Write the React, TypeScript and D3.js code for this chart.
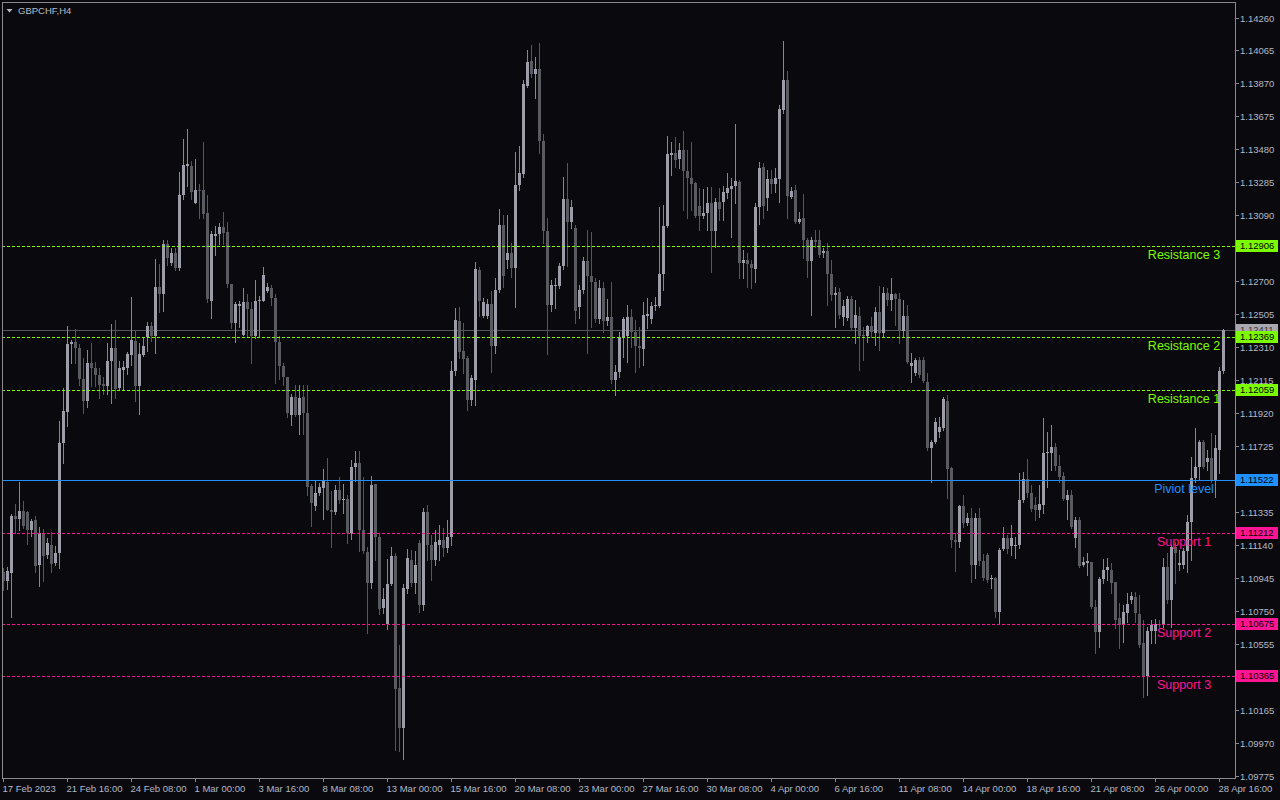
import React, { useEffect, useRef } from "react";
import * as d3 from "d3";

const symbolTitle = "GBPCHF,H4";

const opens = [
  1.10981,1.10927,1.10975,1.11312,1.11294,1.11341,1.11336,1.11229,1.11288,1.11022,
  1.11211,1.11081,1.11140,1.11034,1.11093,1.11744,1.11927,1.12329,1.12341,1.12306,
  1.12122,1.11992,1.12217,1.12187,1.12146,1.12093,1.12081,1.12229,1.12306,1.12069,
  1.12175,1.12187,1.12264,1.12347,1.12081,1.12264,1.12371,1.12436,1.12377,1.12666,
  1.12625,1.12921,1.12808,1.12868,1.12779,1.13211,1.13382,1.13382,1.13163,1.13240,
  1.13240,1.13104,1.12584,1.12968,1.12980,1.13021,1.12992,1.12684,1.12454,1.12554,
  1.12383,1.12578,1.12536,1.12377,1.12584,1.12584,1.12643,1.12661,1.12601,1.12341,
  1.12199,1.12134,1.11909,1.12016,1.11909,1.12016,1.11921,1.11489,1.11371,1.11448,
  1.11478,1.11513,1.11347,1.11336,1.11466,1.11407,1.11412,1.11211,1.11602,1.11625,
  1.11229,1.11099,1.10916,1.11501,1.11188,1.10768,1.10673,1.10910,1.11075,1.10295,
  1.10058,1.10880,1.11052,1.10916,1.11152,1.10785,1.11336,1.11140,1.11052,1.11140,
  1.11170,1.11123,1.11188,1.12170,1.12465,1.12288,1.12246,1.11998,1.12116,1.12767,
  1.12495,1.12495,1.12566,1.12317,1.12649,1.13033,1.12826,1.12868,1.12779,1.13270,
  1.13335,1.13855,1.14003,1.13926,1.13956,1.13530,1.12998,1.12560,1.12672,1.12672,
  1.12791,1.13187,1.13051,1.13015,1.12548,1.12649,1.12820,1.12732,1.12696,1.12477,
  1.12661,1.12465,1.12489,1.12116,1.12164,1.12371,1.12377,1.12489,1.12400,1.12317,
  1.12300,1.12495,1.12477,1.12554,1.12554,1.12743,1.13027,1.13447,1.13459,1.13424,
  1.13477,1.13353,1.13311,1.13282,1.13146,1.13086,1.13104,1.13163,1.12998,1.13169,
  1.13169,1.13222,1.13246,1.13264,1.13288,1.12808,1.12826,1.12802,1.12773,1.13140,
  1.13376,1.13193,1.13305,1.13276,1.13305,1.13713,1.13891,1.13199,1.13240,1.13051,
  1.13075,1.12944,1.12820,1.12944,1.12944,1.12868,1.12879,1.12743,1.12619,1.12637,
  1.12489,1.12483,1.12595,1.12424,1.12495,1.12383,1.12377,1.12436,1.12394,1.12519,
  1.12394,1.12631,1.12590,1.12625,1.12595,1.12406,1.12495,1.12199,1.12158,1.12235,
  1.12235,1.12105,1.11714,1.11750,1.11809,1.11832,1.11992,1.11596,1.11170,1.11158,
  1.11371,1.11271,1.11300,1.11022,1.11300,1.11046,1.11081,1.10939,1.10945,1.10744,
  1.11117,1.11182,1.11134,1.11134,1.11140,1.11407,1.11531,1.11448,1.11377,1.11347,
  1.11377,1.11685,1.11685,1.11720,1.11608,1.11549,1.11407,1.11436,1.11182,1.11288,
  1.11022,1.11034,1.11040,1.10774,1.10626,1.10939,1.10992,1.10992,1.10922,1.10709,
  1.10667,1.10738,1.10815,1.10833,1.10732,1.10561,1.10366,1.10632,1.10632,1.10673,
  1.10673,1.11010,1.10815,1.11129,1.11022,1.11022,1.11105,1.11276,1.11537,1.11602,
  1.11750,1.11631,1.11655,1.11525,1.11702,1.12170,
];

const highs = [
  1.11004,1.11010,1.11324,1.11383,1.11513,1.11401,1.11341,1.11294,1.11312,1.11247,
  1.11235,1.11182,1.11217,1.11134,1.11874,1.12069,1.12436,1.12353,1.12418,1.12329,
  1.12246,1.12294,1.12335,1.12223,1.12187,1.12134,1.12335,1.12448,1.12471,1.12229,
  1.12229,1.12282,1.12607,1.12406,1.12335,1.12365,1.12459,1.12459,1.12832,1.12802,
  1.12944,1.12944,1.12897,1.12897,1.13347,1.13542,1.13601,1.13412,1.13424,1.13276,
  1.13524,1.13211,1.12998,1.13027,1.13045,1.13110,1.13051,1.12684,1.12578,1.12584,
  1.12661,1.12625,1.12578,1.12708,1.12613,1.12785,1.12690,1.12678,1.12625,1.12377,
  1.12217,1.12134,1.12034,1.12087,1.12087,1.12087,1.12087,1.11501,1.11519,1.11507,
  1.11590,1.11655,1.11460,1.11495,1.11543,1.11501,1.11436,1.11643,1.11696,1.11696,
  1.11543,1.11129,1.11549,1.11501,1.11211,1.10886,1.11058,1.11129,1.11093,1.10549,
  1.10910,1.11117,1.11111,1.11105,1.11170,1.11359,1.11377,1.11200,1.11229,1.11259,
  1.11241,1.11288,1.12229,1.12542,1.12548,1.12454,1.12258,1.12146,1.12814,1.12785,
  1.12601,1.12595,1.12643,1.12720,1.13128,1.13092,1.13092,1.12927,1.13465,1.13500,
  1.13891,1.14068,1.14098,1.14027,1.14110,1.13571,1.13075,1.12708,1.12720,1.12808,
  1.13317,1.13400,1.13181,1.13033,1.12678,1.12844,1.13004,1.12992,1.12720,1.12708,
  1.12696,1.12595,1.12696,1.12205,1.12400,1.12489,1.12560,1.12536,1.12471,1.12430,
  1.12578,1.12601,1.12578,1.12607,1.13140,1.13151,1.13560,1.13524,1.13554,1.13518,
  1.13589,1.13477,1.13524,1.13288,1.13252,1.13246,1.13258,1.13258,1.13193,1.13252,
  1.13264,1.13341,1.13311,1.13631,1.13299,1.12885,1.12868,1.12826,1.13163,1.13406,
  1.13400,1.13358,1.13358,1.13370,1.13743,1.14122,1.13944,1.13258,1.13270,1.13110,
  1.13217,1.12956,1.12962,1.13004,1.13004,1.12897,1.12927,1.12826,1.12666,1.12661,
  1.12590,1.12613,1.12613,1.12590,1.12548,1.12430,1.12442,1.12489,1.12548,1.12672,
  1.12666,1.12661,1.12720,1.12631,1.12631,1.12590,1.12560,1.12276,1.12246,1.12252,
  1.12252,1.12158,1.11761,1.11892,1.11897,1.12016,1.12028,1.11602,1.11211,1.11377,
  1.11436,1.11330,1.11359,1.11330,1.11359,1.11087,1.11093,1.10963,1.10951,1.11123,
  1.11247,1.11200,1.11259,1.11188,1.11566,1.11572,1.11649,1.11495,1.11424,1.11495,
  1.11892,1.11809,1.11850,1.11744,1.11673,1.11572,1.11466,1.11466,1.11306,1.11306,
  1.11069,1.11093,1.11040,1.10815,1.10951,1.11058,1.11063,1.11034,1.10922,1.10797,
  1.10785,1.10856,1.10862,1.10862,1.10845,1.10697,1.10655,1.10697,1.10703,1.10697,
  1.11063,1.11093,1.11140,1.11158,1.11111,1.11123,1.11318,1.11661,1.11832,1.11761,
  1.11761,1.11702,1.11803,1.11791,1.12193,1.12418,
];

const lows = [
  1.10874,1.10880,1.10714,1.11211,1.11229,1.11241,1.11146,1.11194,1.10981,1.10898,
  1.10927,1.11063,1.10981,1.11022,1.11004,1.11625,1.11844,1.12217,1.12217,1.12087,
  1.11921,1.11957,1.12081,1.12081,1.12010,1.12034,1.12034,1.11980,1.12010,1.12057,
  1.12057,1.12152,1.12205,1.11992,1.11915,1.12258,1.12288,1.12347,1.12276,1.12519,
  1.12524,1.12797,1.12797,1.12767,1.12767,1.13187,1.13264,1.13187,1.13163,1.13075,
  1.13075,1.12578,1.12483,1.12856,1.12921,1.12921,1.12666,1.12424,1.12341,1.12430,
  1.12383,1.12377,1.12217,1.12365,1.12377,1.12584,1.12637,1.12560,1.12099,1.12122,
  1.12087,1.11897,1.11850,1.11903,1.11797,1.11797,1.11436,1.11253,1.11347,1.11436,
  1.11294,1.11347,1.11129,1.11324,1.11389,1.11330,1.11152,1.11176,1.11519,1.11105,
  1.11093,1.10620,1.10886,1.11052,1.10732,1.10738,1.10644,1.10904,1.09928,1.09922,
  1.09875,1.10856,1.10898,1.10856,1.10744,1.10756,1.11052,1.10933,1.11022,1.11052,
  1.11075,1.11099,1.11140,1.12146,1.12246,1.12158,1.11939,1.11968,1.11968,1.12495,
  1.12489,1.12483,1.12164,1.12276,1.12637,1.12666,1.12779,1.12726,1.12548,1.13240,
  1.13317,1.13849,1.13909,1.13784,1.13459,1.12927,1.12270,1.12524,1.12542,1.12661,
  1.12773,1.12791,1.13015,1.12454,1.12483,1.12631,1.12276,1.12430,1.12459,1.12454,
  1.12400,1.12442,1.12099,1.12028,1.12134,1.12252,1.12223,1.12312,1.12164,1.12193,
  1.12205,1.12424,1.12454,1.12530,1.12548,1.12649,1.13021,1.13329,1.13376,1.13370,
  1.13122,1.13075,1.13122,1.13080,1.13004,1.13075,1.13004,1.12755,1.12903,1.13063,
  1.13063,1.13193,1.12962,1.13163,1.12720,1.12720,1.12666,1.12661,1.12696,1.13039,
  1.13075,1.13122,1.13222,1.13228,1.13169,1.13696,1.13075,1.13193,1.13045,1.13045,
  1.12838,1.12726,1.12501,1.12903,1.12844,1.12844,1.12560,1.12590,1.12430,1.12483,
  1.12442,1.12471,1.12412,1.12335,1.12175,1.12235,1.12341,1.12371,1.12323,1.12294,
  1.12371,1.12560,1.12530,1.12442,1.12335,1.12371,1.12217,1.12105,1.12146,1.12134,
  1.12105,1.11702,1.11513,1.11744,1.11779,1.11821,1.11418,1.11129,1.10987,1.11129,
  1.11247,1.11259,1.10922,1.10945,1.11022,1.10933,1.10922,1.10886,1.10714,1.10679,
  1.11111,1.11093,1.11081,1.11063,1.11123,1.11395,1.11424,1.11341,1.11288,1.11306,
  1.11330,1.11483,1.11584,1.11584,1.11513,1.11407,1.11294,1.11241,1.11129,1.11010,
  1.11016,1.10963,1.10768,1.10502,1.10537,1.10916,1.10933,1.10856,1.10649,1.10531,
  1.10567,1.10685,1.10797,1.10685,1.10537,1.10241,1.10253,1.10561,1.10561,1.10655,
  1.10655,1.10797,1.10655,1.10916,1.10992,1.11004,1.10981,1.11052,1.11513,1.11525,
  1.11596,1.11584,1.11513,1.11424,1.11566,1.12158,
];

const closes = [
  1.10927,1.10987,1.11312,1.11294,1.11341,1.11253,1.11229,1.11282,1.11016,1.11211,
  1.11075,1.11152,1.11028,1.11093,1.11744,1.11933,1.12329,1.12341,1.12306,1.12122,
  1.11992,1.12217,1.12187,1.12146,1.12087,1.12081,1.12229,1.12306,1.12063,1.12187,
  1.12193,1.12270,1.12353,1.12081,1.12270,1.12317,1.12436,1.12377,1.12666,1.12625,
  1.12921,1.12838,1.12868,1.12779,1.13211,1.13388,1.13394,1.13228,1.13240,1.13234,
  1.13098,1.12595,1.12980,1.12980,1.13021,1.12986,1.12684,1.12454,1.12566,1.12566,
  1.12578,1.12536,1.12377,1.12584,1.12590,1.12737,1.12666,1.12601,1.12341,1.12199,
  1.12134,1.11921,1.12016,1.11909,1.12010,1.11921,1.11483,1.11389,1.11448,1.11483,
  1.11519,1.11347,1.11336,1.11466,1.11407,1.11412,1.11211,1.11602,1.11625,1.11229,
  1.11105,1.10916,1.11495,1.11188,1.10762,1.10821,1.10910,1.11075,1.10289,1.10058,
  1.10886,1.11063,1.10916,1.11022,1.10785,1.11336,1.11140,1.11052,1.11158,1.11170,
  1.11123,1.11188,1.12170,1.12471,1.12282,1.12241,1.11998,1.12128,1.12773,1.12584,
  1.12578,1.12566,1.12317,1.12649,1.13033,1.12732,1.12868,1.12779,1.13270,1.13341,
  1.13867,1.13997,1.13926,1.13956,1.13530,1.12998,1.12560,1.12678,1.12678,1.12791,
  1.13187,1.13051,1.13140,1.12524,1.12649,1.12820,1.12732,1.12696,1.12477,1.12661,
  1.12465,1.12489,1.12116,1.12164,1.12371,1.12477,1.12489,1.12400,1.12317,1.12306,
  1.12501,1.12507,1.12554,1.12560,1.12743,1.13027,1.13453,1.13459,1.13418,1.13477,
  1.13353,1.13311,1.13276,1.13086,1.13086,1.13104,1.13163,1.12998,1.13169,1.13128,
  1.13228,1.13252,1.13264,1.13293,1.12808,1.12826,1.12802,1.12779,1.13140,1.13370,
  1.13146,1.13305,1.13276,1.13311,1.13719,1.13891,1.13205,1.13234,1.13051,1.13069,
  1.12944,1.12820,1.12944,1.12933,1.12856,1.12879,1.12743,1.12619,1.12631,1.12501,
  1.12554,1.12595,1.12424,1.12501,1.12377,1.12377,1.12436,1.12400,1.12519,1.12394,
  1.12631,1.12590,1.12625,1.12595,1.12406,1.12495,1.12223,1.12217,1.12235,1.12146,
  1.12110,1.11714,1.11750,1.11868,1.11838,1.12004,1.11590,1.11170,1.11158,1.11371,
  1.11271,1.11300,1.11022,1.11300,1.11046,1.10945,1.10933,1.10945,1.10744,1.11111,
  1.11182,1.11117,1.11182,1.11140,1.11407,1.11531,1.11448,1.11353,1.11347,1.11383,
  1.11685,1.11690,1.11720,1.11608,1.11543,1.11412,1.11436,1.11247,1.11288,1.11016,
  1.11040,1.11046,1.10774,1.10626,1.10939,1.10992,1.11010,1.10916,1.10697,1.10667,
  1.10744,1.10791,1.10839,1.10738,1.10549,1.10366,1.10632,1.10667,1.10673,1.10667,
  1.11010,1.10815,1.11129,1.11093,1.11034,1.11105,1.11276,1.11537,1.11602,1.11750,
  1.11602,1.11655,1.11525,1.11714,1.12170,1.12411,
];

const timeLabels = [
  "17 Feb 2023","21 Feb 16:00","24 Feb 08:00","1 Mar 00:00","3 Mar 16:00",
  "8 Mar 08:00","13 Mar 00:00","15 Mar 16:00","20 Mar 08:00","23 Mar 00:00",
  "27 Mar 16:00","30 Mar 08:00","4 Apr 00:00","6 Apr 16:00","11 Apr 08:00",
  "14 Apr 00:00","18 Apr 16:00","21 Apr 08:00","26 Apr 00:00","28 Apr 16:00",
];
const timeLabelBars = [0,16,32,48,64,80,96,112,128,144,160,176,192,208,224,240,256,272,288,304];

const priceTicks = [
  1.14260,1.14065,1.13870,1.13675,1.13480,1.13285,1.13090,1.12700,1.12505,1.12310,
  1.12115,1.11920,1.11725,1.11335,1.11140,1.10945,1.10750,1.10555,1.10165,1.09970,1.09775,
];

const levelNames = ["Resistance 3","Resistance 2","Resistance 1","Piviot level","Support 1","Support 2","Support 3"];
const levelValues = [1.12906,1.12369,1.12059,1.11522,1.11212,1.10675,1.10365];
const levelColors = ["#7cfc00","#7cfc00","#7cfc00","#1e90ff","#ff1493","#ff1493","#ff1493"];
const levelDashed = [true,true,true,false,true,true,true];

const lastPrice = 1.12411;

export default function App() {
  const ref = useRef<SVGSVGElement | null>(null);

  useEffect(() => {
    document.body.style.margin = "0";
    document.body.style.background = "#0a0a0e";
    const svg = d3.select(ref.current);
    svg.selectAll("*").remove();

    const W = 1280, H = 800;
    const left = 2, top = 2, right = 1235, bottom = 778;
    const font = "'Liberation Sans', Arial, sans-serif";
    const axisColor = "#b4b8c4";

    svg.append("rect").attr("width", W).attr("height", H).attr("fill", "#0a0a0e");

    const n = closes.length;
    const x = d3.scaleLinear().domain([0, n - 1]).range([3.5, 1223.5]);
    const y = d3.scaleLinear().domain([1.09775, 1.14260]).range([775.7, 17.5]);

    const defs = svg.append("defs");
    defs.append("clipPath").attr("id", "plotclip")
      .append("rect").attr("x", left + 1).attr("y", top + 1)
      .attr("width", right - left - 1).attr("height", bottom - top - 1);

    const plot = svg.append("g").attr("clip-path", "url(#plotclip)");

    // current price line
    const ly = Math.round(y(lastPrice)) + 0.5;
    plot.append("line").attr("x1", left).attr("x2", right).attr("y1", ly).attr("y2", ly)
      .attr("stroke", "#55555d").attr("stroke-width", 1);

    // candles
    const idx = d3.range(n);
    const g = plot.append("g").attr("shape-rendering", "crispEdges");
    g.selectAll("line.wick").data(idx).join("line")
      .attr("class", "wick")
      .attr("x1", (i) => Math.round(x(i) - 0.5) + 0.5)
      .attr("x2", (i) => Math.round(x(i) - 0.5) + 0.5)
      .attr("y1", (i) => Math.round(y(highs[i])))
      .attr("y2", (i) => Math.round(y(lows[i])) + 1)
      .attr("stroke", (i) => (closes[i] >= opens[i] ? "#878794" : "#56565d"))
      .attr("stroke-width", 1);
    g.selectAll("rect.body").data(idx).join("rect")
      .attr("class", "body")
      .attr("x", (i) => Math.round(x(i) - 0.5) - 1)
      .attr("width", 3)
      .attr("y", (i) => Math.round(y(Math.max(opens[i], closes[i]))))
      .attr("height", (i) => Math.max(1, Math.round(y(Math.min(opens[i], closes[i]))) - Math.round(y(Math.max(opens[i], closes[i])))))
      .attr("fill", (i) => (closes[i] >= opens[i] ? "#9d9daa" : "#5a5a61"));

    // levels
    levelValues.forEach((v, k) => {
      const yy = Math.round(y(v)) + 0.5;
      plot.append("line").attr("x1", left).attr("x2", right).attr("y1", yy).attr("y2", yy)
        .attr("stroke", levelColors[k]).attr("stroke-width", 1)
        .attr("stroke-dasharray", levelDashed[k] ? "3,2" : null)
        .attr("shape-rendering", "crispEdges");
      svg.append("text").attr("x", 1184).attr("y", yy + 12.5)
        .attr("text-anchor", "middle").attr("font-family", font).attr("font-size", 12.5)
        .attr("fill", levelColors[k]).text(levelNames[k]);
    });

    // frame
    svg.append("rect").attr("x", left + 0.5).attr("y", top + 0.5)
      .attr("width", right - left).attr("height", bottom - top)
      .attr("fill", "none").attr("stroke", "#8a8a8e").attr("stroke-width", 1)
      .attr("shape-rendering", "crispEdges");

    // title
    svg.append("path").attr("d", "M6.5,9 L12.5,9 L9.5,12.5 Z").attr("fill", "#b8bcc6");
    svg.append("text").attr("x", 18).attr("y", 14).attr("font-family", font)
      .attr("font-size", 9.5).attr("fill", "#b8bcc6").text(symbolTitle);

    // price axis
    const pa = svg.append("g");
    priceTicks.forEach((v) => {
      const yy = Math.round(y(v)) + 0.5;
      pa.append("line").attr("x1", right).attr("x2", right + 4).attr("y1", yy).attr("y2", yy)
        .attr("stroke", "#8a8a8e").attr("shape-rendering", "crispEdges");
      pa.append("text").attr("x", 1240).attr("y", yy).attr("dy", "0.35em")
        .attr("font-family", font).attr("font-size", 9.5).attr("fill", axisColor)
        .text(d3.format(".5f")(v));
    });

    // last price box (partly hidden behind the level boxes, as in the reference)
    const lpy = Math.round(y(lastPrice));
    svg.append("rect").attr("x", 1236).attr("y", lpy - 6).attr("width", 42).attr("height", 12)
      .attr("fill", "#a8a8b0");
    svg.append("text").attr("x", 1240).attr("y", lpy).attr("dy", "0.35em")
      .attr("font-family", font).attr("font-size", 9.5).attr("fill", "#303036")
      .text(d3.format(".5f")(lastPrice));

    levelValues.forEach((v, k) => {
      const yy = Math.round(y(v));
      svg.append("rect").attr("x", 1236).attr("y", yy - 6).attr("width", 42).attr("height", 12)
        .attr("fill", levelColors[k]);
      svg.append("text").attr("x", 1240).attr("y", yy).attr("dy", "0.35em")
        .attr("font-family", font).attr("font-size", 9.5).attr("fill", "#000")
        .text(d3.format(".5f")(v));
    });

    // time axis
    const ta = svg.append("g");
    timeLabelBars.forEach((b, k) => {
      const xx = Math.round(x(b) - 0.5) + 0.5;
      ta.append("line").attr("x1", xx).attr("x2", xx).attr("y1", bottom).attr("y2", bottom + 4)
        .attr("stroke", "#8a8a8e").attr("shape-rendering", "crispEdges");
      ta.append("text").attr("x", xx - 1).attr("y", 792)
        .attr("font-family", font).attr("font-size", 9.5).attr("fill", axisColor)
        .text(timeLabels[k]);
    });
  }, []);

  return (
    <svg ref={ref} width={1280} height={800}
      style={{ position: "absolute", left: 0, top: 0, display: "block" }} />
  );
}
